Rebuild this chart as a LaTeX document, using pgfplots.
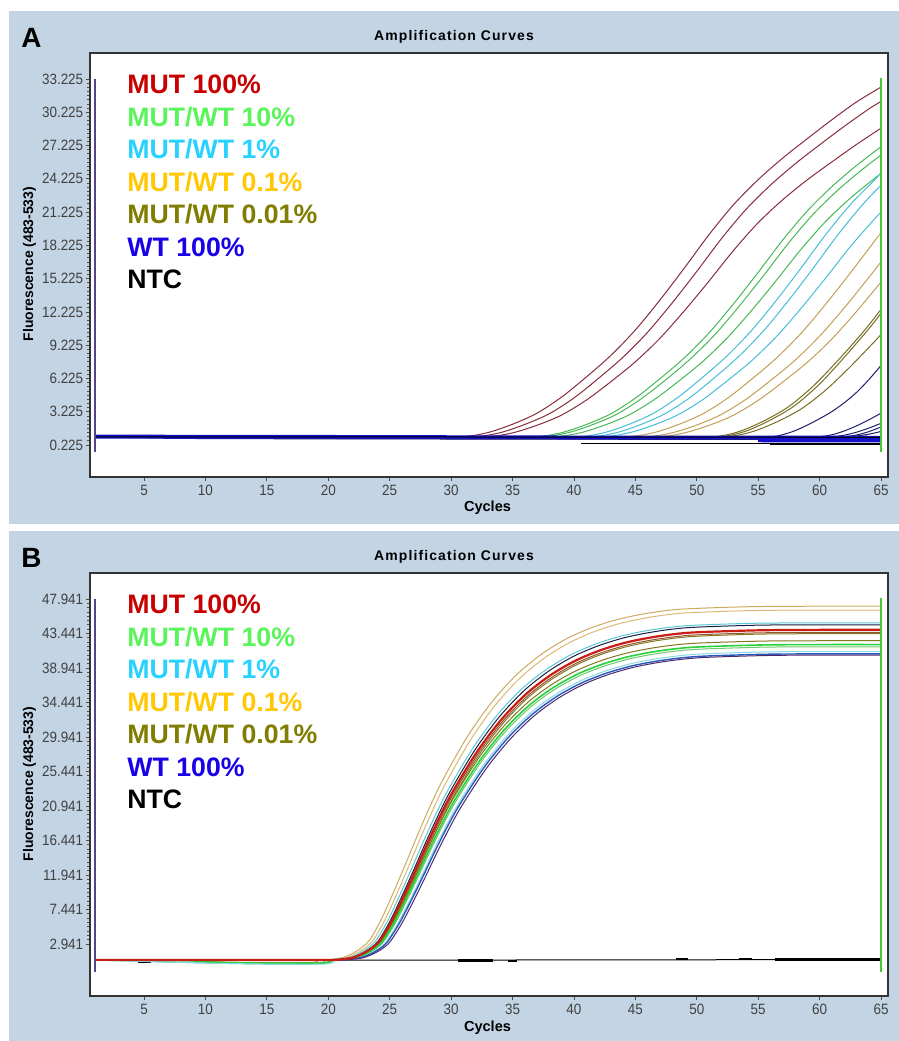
\documentclass[border=0pt]{standalone}
\usepackage{fontspec}
\setmainfont{Liberation Sans}
\newfontfamily\tickfont{Liberation Sans}[FakeStretch=0.9]
\newfontfamily\titlefont{Liberation Sans}[LetterSpace=8]
\usepackage{pgfplots}
\pgfplotsset{compat=1.18}

\definecolor{panelbg}{RGB}{195,212,228}
\definecolor{legred}{RGB}{200,0,0}
\definecolor{leggreen}{RGB}{90,245,90}
\definecolor{legcyan}{RGB}{40,210,255}
\definecolor{leggold}{RGB}{255,200,0}
\definecolor{legolive}{RGB}{128,125,0}
\definecolor{legblue}{RGB}{25,0,230}
% curve colours, panel A
\definecolor{cred}{RGB}{135,45,60}
\definecolor{cgreen}{RGB}{70,185,85}
\definecolor{ccyan}{RGB}{70,190,215}
\definecolor{cgold}{RGB}{195,160,85}
\definecolor{colive}{RGB}{120,110,35}
\definecolor{cnavy}{RGB}{30,30,110}
\definecolor{cwt}{RGB}{20,15,200}
\definecolor{vpurple}{RGB}{85,65,145}
\definecolor{vgreen}{RGB}{70,200,50}
% curve colours, panel B
\definecolor{bgold}{RGB}{205,170,95}
\definecolor{bgoldb}{RGB}{220,185,115}
\definecolor{bcyan}{RGB}{90,200,215}
\definecolor{bnavy}{RGB}{25,30,70}
\definecolor{bred}{RGB}{200,30,20}
\definecolor{bbrown}{RGB}{150,80,50}
\definecolor{bolive}{RGB}{130,120,30}
\definecolor{bgreen}{RGB}{40,210,60}
\definecolor{bgreenb}{RGB}{110,200,110}
\definecolor{bcyanb}{RGB}{140,215,230}
\definecolor{bblue}{RGB}{40,90,190}
\definecolor{bpurple}{RGB}{80,40,110}

\pgfplotsset{
  pcr/.style={
    scale only axis, width=399bp,
    xmin=0.6, xmax=65.57,
    xtick={5,10,...,65},
    axis background/.style={fill=white},
    axis line style={draw=black!80, line width=0.8bp},
    tick align=outside, xtick pos=bottom, ytick pos=left,
    major tick length=2.2bp, minor tick length=1.3bp,
    tick style={draw=black!70, line width=0.4bp},
    minor y tick num=7,
    tick label style={font=\tickfont\fontsize{7.5}{8}\selectfont, text=black!75},
    /pgf/number format/assume math mode=true,
    yticklabel style={/pgf/number format/fixed, /pgf/number format/fixed zerofill,
      /pgf/number format/precision=3, inner sep=1bp},
    xticklabel style={inner sep=1.5bp},
    every axis plot/.append style={line width=0.5bp},
  },
}

\begin{document}
\begin{tikzpicture}
\begin{scope}[x=0.5bp,y=-0.5bp]
  \fill[white] (0,0) rectangle (899,1041);
  \fill[panelbg] (9,11) rectangle (899,524);
  \fill[panelbg] (9,531) rectangle (899,1041);
\end{scope}

% ---------------- panel A ----------------
\begin{axis}[pcr, at={(45bp,-238.5bp)}, anchor=south west, height=212bp,
  ymin=-2.66, ymax=35.57,
  ytick={0.225,3.225,6.225,9.225,12.225,15.225,18.225,21.225,24.225,27.225,30.225,33.225}]
% MUT 100%
\addplot[cred, smooth] coordinates {(1,1.0) (20,0.97) (28,0.97) (31,0.98) (33,1.35) (35,2.1) (37,3.1) (39,4.55) (41,6.35) (43,8.3) (45,10.6) (47,13.3) (49,16.2) (51,19.2) (53,21.9) (55,24.15) (57,26.1) (59,27.85) (61,29.55) (63,31.15) (65,32.5)};
\addplot[cred, smooth] coordinates {(1,1.0) (20,0.97) (29,0.97) (32,0.98) (34,1.34) (36,2.08) (38,3.05) (40,4.47) (42,6.24) (44,8.15) (46,10.40) (48,13.04) (50,15.88) (52,18.82) (54,21.46) (56,23.66) (58,25.57) (60,27.29) (62,28.95) (64,30.52) (65,31.2)};
\addplot[cred, smooth] coordinates {(1,1.0) (20,0.97) (30,0.97) (33,0.98) (35,1.32) (37,2.01) (39,2.93) (41,4.27) (43,5.93) (45,7.73) (47,9.85) (49,12.34) (51,15.01) (53,17.78) (55,20.27) (57,22.34) (59,24.14) (61,25.75) (63,27.32) (65,28.79)};
% MUT/WT 10%
\addplot[cgreen, smooth] coordinates {(1,1.0) (25,0.96) (34,0.96) (37,0.98) (39,1.34) (41,2.07) (43,3.04) (45,4.45) (47,6.20) (49,8.10) (51,10.34) (53,12.97) (55,15.79) (57,18.71) (59,21.33) (61,23.52) (63,25.42) (65,27.12)};
\addplot[cgreen, smooth] coordinates {(1,1.0) (25,0.96) (34.5,0.96) (37.5,0.98) (39.5,1.33) (41.5,2.05) (43.5,3.01) (45.5,4.41) (47.5,6.13) (49.5,8.01) (51.5,10.21) (53.5,12.81) (55.5,15.59) (57.5,18.47) (59.5,21.06) (61.5,23.22) (63.5,25.09) (65,26.37)};
\addplot[cgreen, smooth] coordinates {(1,1.0) (25,0.96) (35.5,0.96) (38.5,0.98) (40.5,1.32) (42.5,2.02) (44.5,2.95) (46.5,4.29) (48.5,5.96) (50.5,7.77) (52.5,9.91) (54.5,12.41) (56.5,15.10) (58.5,17.89) (60.5,20.39) (62.5,22.48) (64.5,24.29) (65,24.7)};
% MUT/WT 1%
\addplot[ccyan, smooth] coordinates {(1,1.0) (25,0.95) (37.5,0.95) (40.5,0.98) (42.5,1.35) (44.5,2.1) (46.5,3.1) (48.5,4.55) (50.5,6.35) (52.5,8.3) (54.5,10.6) (56.5,13.3) (58.5,16.2) (60.5,19.2) (62.5,21.9) (64.5,24.15) (65,24.8)};
\addplot[ccyan, smooth] coordinates {(1,1.0) (25,0.95) (38.5,0.95) (41.5,0.98) (43.5,1.35) (45.5,2.1) (47.5,3.1) (49.5,4.55) (51.5,6.35) (53.5,8.3) (55.5,10.6) (57.5,13.3) (59.5,16.2) (61.5,19.2) (63.5,21.9) (65,23.65)};
\addplot[ccyan, smooth] coordinates {(1,1.0) (25,0.95) (39.5,0.95) (42.5,0.98) (44.5,1.33) (46.5,2.03) (48.5,2.97) (50.5,4.33) (52.5,6.03) (54.5,7.86) (56.5,10.02) (58.5,12.56) (60.5,15.29) (62.5,18.11) (64.5,20.64) (65,21.2)};
% MUT/WT 0.1%
\addplot[cgold, smooth] coordinates {(1,1.0) (30,0.95) (41.5,0.95) (44.5,0.98) (46.5,1.34) (48.5,2.07) (50.5,3.04) (52.5,4.44) (54.5,6.19) (56.5,8.08) (58.5,10.31) (60.5,12.93) (62.5,15.74) (64.5,18.65) (65,19.34)};
\addplot[cgold, smooth] coordinates {(1,1.0) (30,0.95) (43,0.95) (46,0.98) (48,1.33) (50,2.03) (52,2.98) (54,4.34) (56,6.04) (58,7.87) (60,10.04) (62,12.58) (64,15.32) (65,16.73)};
\addplot[cgold, smooth] coordinates {(1,1.0) (30,0.95) (44,0.95) (47,0.98) (49,1.32) (51,2.0) (53,2.92) (55,4.25) (57,5.90) (59,7.68) (61,9.79) (63,12.26) (65,14.92)};
% MUT/WT 0.01%
\addplot[colive, smooth] coordinates {(1,1.0) (30,0.95) (48.5,0.95) (51.5,0.98) (53.5,1.46) (55.5,2.42) (57.5,3.70) (59.5,5.56) (61.5,7.86) (63.5,10.36) (65,12.45)};
\addplot[colive, smooth] coordinates {(1,1.0) (30,0.95) (49,0.95) (52,0.98) (54,1.48) (56,2.48) (58,3.80) (60,5.73) (62,8.12) (64,10.70) (65,12.1)};
\addplot[colive, smooth] coordinates {(1,1.0) (30,0.95) (49.5,0.95) (52.5,0.98) (54.5,1.42) (56.5,2.30) (58.5,3.48) (60.5,5.18) (62.5,7.29) (64.5,9.59) (65,10.2)};
% late navy curves
\addplot[cnavy, smooth] coordinates {(1,1.0) (40,0.93) (53,0.93) (56,0.98) (57,1.16) (58,1.52) (59,2.02) (60,2.60) (61,3.24) (62,4.03) (63,4.96) (64,6.11) (65,7.4)};
\addplot[cnavy, smooth] coordinates {(1,1.0) (40,0.93) (58,0.93) (60,0.98) (61,1.15) (62,1.49) (63,1.95) (64,2.49) (65,3.1)};
\addplot[cnavy, smooth] coordinates {(45,0.93) (59,0.93) (61,0.98) (62,1.11) (63,1.38) (64,1.75) (65,2.18)};
\addplot[cnavy, smooth] coordinates {(45,0.93) (60,0.93) (62,0.98) (63,1.13) (64,1.43) (65,1.85)};
\addplot[cnavy, smooth] coordinates {(45,0.93) (61,0.93) (62.5,0.97) (64,1.2) (65,1.45)};
% NTC and WT baselines
\addplot[black!85] coordinates {(1,0.95) (10,0.8) (40,0.75) (65,0.72)};
\addplot[black] coordinates {(40.6,0.38) (65,0.38)};
\addplot[black] coordinates {(56,0.3) (65,0.3)};
\addplot[cwt, line width=2bp] coordinates {(1,0.98) (20,0.95) (40,0.9) (65,0.88)};
\addplot[cwt, line width=1.6bp] coordinates {(55,0.62) (65,0.6)};
\addplot[black] coordinates {(1,0.96) (30,0.95) (65,0.92)};
% cursor lines
\addplot[vpurple, line width=1bp] coordinates {(1,33.225) (1,-0.4)};
\addplot[vgreen, line width=1.2bp] coordinates {(65,33.3) (65,-0.4)};
\end{axis}

% ---------------- panel B ----------------
\begin{axis}[pcr, at={(45bp,-498bp)}, anchor=south west, height=211.5bp,
  ymin=-3.84, ymax=51.33,
  ytick={2.941,7.441,11.941,16.441,20.941,25.441,29.941,34.441,38.941,43.441,47.941}]
\addplot[black] coordinates {(1,0.85) (30,0.85) (65,0.92)};
\addplot[black, line width=1.3bp] coordinates {(4.5,0.6) (5.6,0.6)};
\addplot[black, line width=1.3bp] coordinates {(30.6,0.8) (33.4,0.8)};
\addplot[black, line width=1.3bp] coordinates {(34.6,0.75) (35.4,0.75)};
\addplot[black, line width=1.3bp] coordinates {(48.3,1.0) (49.3,1.0)};
\addplot[black, line width=1.3bp] coordinates {(53.4,1.0) (54.5,1.0)};
\addplot[black, line width=1.3bp] coordinates {(56.4,0.95) (65,0.95)};
% samples
\addplot[bgold, smooth] coordinates {(1,0.85) (8,0.82) (12,0.55) (18.3,0.5) (19.3,0.85) (20.3,0.96) (21.3,1.24) (22.3,2.01) (23.3,3.34) (24.3,6.11) (25.3,9.66) (26.3,13.43) (27.3,17.30) (28.3,20.96) (29.3,24.28) (31.3,29.94) (33.3,34.48) (35.3,38.02) (37.3,40.68) (39.3,42.68) (41.3,44.12) (43.3,45.17) (45.3,45.89) (47.3,46.39) (49.3,46.67) (54.3,46.94) (59.3,47.0) (65,47.0)};
\addplot[bgoldb, smooth] coordinates {(1,0.88) (18.6,0.85) (19.6,0.85) (20.6,0.96) (21.6,1.23) (22.6,2.0) (23.6,3.32) (24.6,6.06) (25.6,9.56) (26.6,13.29) (27.6,17.13) (28.6,20.74) (29.6,24.03) (31.6,29.62) (33.6,34.11) (35.6,37.62) (37.6,40.25) (39.6,42.22) (41.6,43.65) (43.6,44.69) (45.6,45.4) (47.6,45.9) (49.6,46.17) (54.6,46.44) (59.6,46.5) (65,46.5)};
\addplot[bcyan, smooth] coordinates {(1,0.85) (12,0.4) (18.8,0.35) (19.8,0.85) (20.8,0.96) (21.8,1.22) (22.8,1.96) (23.8,3.23) (24.8,5.87) (25.8,9.25) (26.8,12.84) (27.8,16.53) (28.8,20.02) (29.8,23.18) (31.8,28.57) (33.8,32.90) (35.8,36.28) (37.8,38.81) (39.8,40.71) (41.8,42.09) (43.8,43.09) (45.8,43.78) (47.8,44.25) (49.8,44.52) (54.8,44.78) (59.8,44.83) (65,44.83)};
\addplot[bnavy, smooth] coordinates {(1,0.88) (19,0.85) (20,0.85) (21,0.96) (22,1.22) (23,1.95) (24,3.21) (25,5.84) (26,9.20) (27,12.77) (28,16.44) (29,19.91) (30,23.06) (32,28.41) (34,32.72) (36,36.08) (38,38.60) (40,40.49) (42,41.85) (44,42.85) (46,43.53) (48,44.01) (50,44.27) (55,44.53) (60,44.58) (65,44.58)};
\addplot[bbrown, smooth] coordinates {(1,0.88) (19.2,0.85) (20.2,0.85) (21.2,0.95) (22.2,1.21) (23.2,1.93) (24.2,3.16) (25.2,5.72) (26.2,9.01) (27.2,12.50) (28.2,16.09) (29.2,19.47) (30.2,22.55) (32.2,27.78) (34.2,31.99) (36.2,35.27) (38.2,37.73) (40.2,39.58) (42.2,40.91) (44.2,41.89) (46.2,42.56) (48.2,43.02) (50.2,43.28) (55.2,43.53) (60.2,43.58) (65,43.58)};
\addplot[bolive, smooth] coordinates {(1,0.85) (8,0.82) (12,0.55) (19.3,0.5) (20.3,0.85) (21.3,0.95) (22.3,1.21) (23.3,1.92) (24.3,3.15) (25.3,5.70) (26.3,8.97) (27.3,12.45) (28.3,16.03) (29.3,19.40) (30.3,22.47) (32.3,27.68) (34.3,31.87) (36.3,35.14) (38.3,37.59) (40.3,39.43) (42.3,40.76) (44.3,41.73) (46.3,42.39) (48.3,42.85) (50.3,43.11) (55.3,43.37) (60.3,43.42) (65,43.42)};
\addplot[bolive, smooth] coordinates {(1,0.88) (19.2,0.85) (20.2,0.85) (21.2,0.95) (22.2,1.2) (23.2,1.9) (24.2,3.1) (25.2,5.6) (26.2,8.8) (27.2,12.2) (28.2,15.7) (29.2,19.0) (30.2,22.0) (32.2,27.1) (34.2,31.2) (36.2,34.4) (38.2,36.8) (40.2,38.6) (42.2,39.9) (44.2,40.85) (46.2,41.5) (48.2,41.95) (50.2,42.2) (55.2,42.45) (60.2,42.5) (65,42.5)};
\addplot[bgreenb, smooth] coordinates {(1,0.85) (12,0.45) (19.4,0.4) (20.4,0.85) (21.4,0.95) (22.4,1.19) (23.4,1.88) (24.4,3.06) (25.4,5.51) (26.4,8.65) (27.4,11.98) (28.4,15.42) (29.4,18.66) (30.4,21.60) (32.4,26.60) (34.4,30.62) (36.4,33.76) (38.4,36.12) (40.4,37.88) (42.4,39.16) (44.4,40.09) (46.4,40.73) (48.4,41.17) (50.4,41.41) (55.4,41.66) (60.4,41.71) (65,41.71)};
\addplot[bgreen, smooth, line width=0.8bp] coordinates {(1,0.85) (8,0.8) (12,0.5) (19.3,0.45) (20.3,0.85) (21.3,0.95) (22.3,1.2) (23.3,1.89) (24.3,3.07) (25.3,5.54) (26.3,8.70) (27.3,12.06) (28.3,15.52) (29.3,18.78) (30.3,21.75) (32.3,26.79) (34.3,30.84) (36.3,34.0) (38.3,36.37) (40.3,38.15) (42.3,39.43) (44.3,40.37) (46.3,41.01) (48.3,41.46) (50.3,41.70) (55.3,41.95) (60.3,42.0) (65,42.0)};
\addplot[bcyanb, smooth] coordinates {(1,0.85) (12,0.4) (19.6,0.33) (20.6,0.85) (21.6,0.95) (22.6,1.19) (23.6,1.86) (24.6,3.02) (25.6,5.44) (26.6,8.53) (27.6,11.81) (28.6,15.20) (29.6,18.38) (30.6,21.28) (32.6,26.21) (34.6,30.17) (36.6,33.26) (38.6,35.58) (40.6,37.32) (42.6,38.57) (44.6,39.49) (46.6,40.12) (48.6,40.55) (50.6,40.79) (55.6,41.04) (60.6,41.08) (65,41.08)};
\addplot[bblue, smooth, line width=0.7bp] coordinates {(1,0.88) (19.7,0.85) (20.7,0.85) (21.7,0.95) (22.7,1.19) (23.7,1.86) (24.7,3.01) (25.7,5.41) (26.7,8.47) (27.7,11.73) (28.7,15.09) (29.7,18.26) (30.7,21.13) (32.7,26.02) (34.7,29.96) (36.7,33.02) (38.7,35.33) (40.7,37.05) (42.7,38.30) (44.7,39.21) (46.7,39.83) (48.7,40.26) (50.7,40.50) (55.7,40.74) (60.7,40.79) (65,40.79)};
\addplot[bpurple, smooth] coordinates {(1,0.85) (19.9,0.85) (20.9,0.85) (21.9,0.95) (22.9,1.18) (23.9,1.85) (24.9,3.0) (25.9,5.39) (26.9,8.44) (27.9,11.69) (28.9,15.03) (29.9,18.18) (30.9,21.05) (32.9,25.92) (34.9,29.83) (36.9,32.89) (38.9,35.18) (40.9,36.90) (42.9,38.14) (44.9,39.05) (46.9,39.67) (48.9,40.10) (50.9,40.34) (55.9,40.58) (60.9,40.63) (65,40.63)};
\addplot[bred, smooth, line width=1.1bp] coordinates {(1,0.88) (19.1,0.85) (20.1,0.85) (21.1,0.95) (22.1,1.21) (23.1,1.94) (24.1,3.18) (25.1,5.76) (26.1,9.07) (27.1,12.59) (28.1,16.20) (29.1,19.62) (30.1,22.72) (32.1,27.99) (34.1,32.23) (36.1,35.54) (38.1,38.02) (40.1,39.88) (42.1,41.23) (44.1,42.21) (46.1,42.88) (48.1,43.35) (50.1,43.61) (55.1,43.86) (60.1,43.92) (65,43.92)};
% cursor lines
\addplot[vpurple, line width=1bp] coordinates {(1,47.941) (1,-0.71)};
\addplot[vgreen, line width=1.2bp] coordinates {(65,48.1) (65,-0.71)};
\end{axis}

% ---------------- text ----------------
\begin{scope}[x=0.5bp,y=-0.5bp]
  \def\legsize{\bfseries\fontsize{13.4}{14}\selectfont}
  \foreach \yo/\lab in {0/A, 520/B} {
    \node[anchor=base west, inner sep=0, font=\bfseries\fontsize{14}{15}\selectfont] at (21,47+\yo) {\lab};
    \node[anchor=base, inner sep=0, font=\titlefont\bfseries\fontsize{7}{8}\selectfont] at (454,40+\yo) {Amplification Curves};
    \node[rotate=90, inner sep=0, font=\bfseries\fontsize{7}{8}\selectfont] at (29.5,264+\yo) {Fluorescence (483-533)};
  }
  \node[anchor=base, inner sep=0, font=\bfseries\fontsize{7.3}{8}\selectfont] at (487.5,511.5) {Cycles};
  \node[anchor=base, inner sep=0, font=\bfseries\fontsize{7.3}{8}\selectfont] at (487.5,1031) {Cycles};
  \foreach \yo in {93.3, 613.3} {
    \node[anchor=base west, inner sep=0, font=\legsize, text=legred] at (127,\yo) {MUT 100\%};
    \node[anchor=base west, inner sep=0, font=\legsize, text=leggreen] at (127,\yo+32.8) {MUT/WT 10\%};
    \node[anchor=base west, inner sep=0, font=\legsize, text=legcyan] at (127,\yo+65.2) {MUT/WT 1\%};
    \node[anchor=base west, inner sep=0, font=\legsize, text=leggold] at (127,\yo+98) {MUT/WT 0.1\%};
    \node[anchor=base west, inner sep=0, font=\legsize, text=legolive] at (127,\yo+130.3) {MUT/WT 0.01\%};
    \node[anchor=base west, inner sep=0, font=\legsize, text=legblue] at (127,\yo+163.2) {WT 100\%};
    \node[anchor=base west, inner sep=0, font=\legsize, text=black] at (127,\yo+195.3) {NTC};
  }
\end{scope}
\end{tikzpicture}
\end{document}
